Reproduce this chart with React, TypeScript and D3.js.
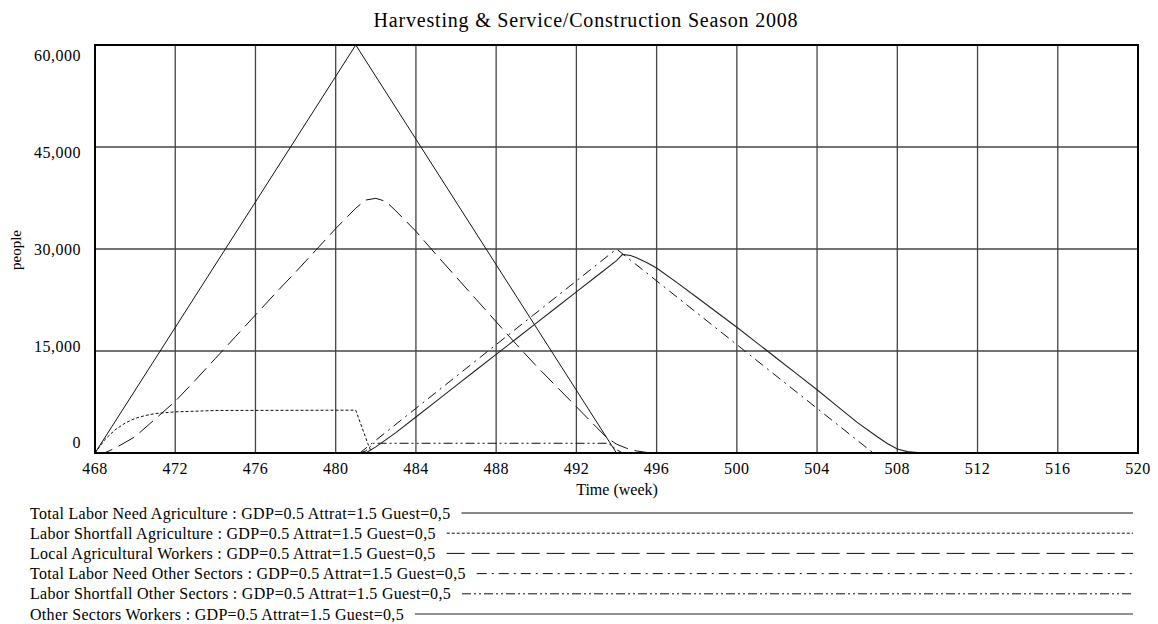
import React, { useEffect, useRef } from 'react';
import * as d3 from 'd3';

// chart data
const xTicks = [468, 472, 476, 480, 484, 488, 492, 496, 500, 504, 508, 512, 516, 520];
const yTicks = [0, 15000, 30000, 45000, 60000];

const scenario = 'GDP=0.5 Attrat=1.5 Guest=0,5';

const totalAgriWeeks = [468, 481, 494, 520];
const totalAgriValues = [0, 60000, 0, 0];

const shortAgriWeeks = [468, 468.5, 469, 469.5, 470, 470.5, 471, 472, 473, 474, 481, 481.6, 481.8, 520];
const shortAgriValues = [0, 2000, 3400, 4400, 5100, 5500, 5800, 6050, 6150, 6250, 6300, 1400, 0, 0];

const localAgriWeeks = [468, 468.5, 469, 470, 471, 472, 473, 474, 475, 476, 477, 478, 479, 480, 481, 481.5, 482, 482.5, 483, 484, 485, 486, 487, 488, 489, 490, 491, 492, 493, 493.5, 494, 494.5, 495, 495.5, 496, 520];
const localAgriValues = [0, 50, 700, 2400, 5000, 7600, 10700, 13900, 17100, 20300, 23500, 26600, 29800, 33000, 36000, 37200, 37450, 37000, 35600, 32600, 29200, 25900, 22600, 19300, 16000, 12800, 9800, 6800, 3800, 2300, 1300, 700, 300, 80, 0, 0];

const needOtherWeeks = [468, 481.2, 494, 506.8, 520];
const needOtherValues = [0, 0, 30000, 0, 0];

const shortOtherWeeks = [468, 481.2, 481.5, 481.9, 493.6, 494, 494.3, 520];
const shortOtherValues = [0, 0, 300, 1430, 1430, 500, 0, 0];

const workersOtherWeeks = [468, 481.5, 482, 483, 484, 485, 486, 487, 488, 489, 490, 491, 492, 493, 494, 494.3, 494.7, 495, 495.5, 496, 497, 498, 499, 500, 501, 502, 503, 504, 505, 506, 507, 507.5, 508, 508.5, 509, 509.5, 520];
const workersOtherValues = [0, 0, 900, 3000, 5300, 7600, 9900, 12200, 14500, 16800, 19100, 21400, 23700, 26000, 28300, 29200, 29050, 28700, 28000, 27200, 25100, 22900, 20700, 18500, 16200, 13900, 11600, 9300, 6900, 4500, 2400, 1400, 600, 200, 50, 0, 0];

const series = [
  { name: 'Total Labor Need Agriculture', weeks: totalAgriWeeks, values: totalAgriValues, dash: null, color: '#111', width: 1 },
  { name: 'Labor Shortfall Agriculture', weeks: shortAgriWeeks, values: shortAgriValues, dash: '3 2', color: '#111', width: 1 },
  { name: 'Local Agricultural Workers', weeks: localAgriWeeks, values: localAgriValues, dash: '18 7', color: '#111', width: 1 },
  { name: 'Total Labor Need Other Sectors', weeks: needOtherWeeks, values: needOtherValues, dash: '10 5 2 5', color: '#111', width: 1 },
  { name: 'Labor Shortfall Other Sectors', weeks: shortOtherWeeks, values: shortOtherValues, dash: '9 3 2 3 2 3', color: '#111', width: 1 },
  { name: 'Other Sectors Workers', weeks: workersOtherWeeks, values: workersOtherValues, dash: null, color: '#222', width: 1.1 },
];

export default function App() {
  const ref = useRef<SVGSVGElement>(null);

  useEffect(() => {
    document.body.style.margin = '0';
    const width = 1158;
    const height = 624;
    const font = '"Liberation Serif", "Times New Roman", serif';

    const svg = d3.select(ref.current);
    svg.selectAll('*').remove();
    svg.attr('width', width).attr('height', height).style('background', '#fff');

    const x = d3.scaleLinear().domain([468, 520]).range([95, 1138]);
    const y = d3.scaleLinear().domain([0, 60000]).range([453, 45]);

    // title
    svg.append('text')
      .attr('x', 586).attr('y', 27)
      .attr('text-anchor', 'middle')
      .style('font-family', font).style('font-size', '20px')
      .style('letter-spacing', '0.8px')
      .text('Harvesting & Service/Construction Season 2008');

    // grid
    const grid = svg.append('g').attr('stroke', '#444').attr('stroke-width', 1.3);
    grid.selectAll('line.v').data(xTicks).join('line')
      .attr('x1', (d) => x(d)).attr('x2', (d) => x(d))
      .attr('y1', y(60000)).attr('y2', y(0));
    grid.selectAll('line.h').data(yTicks).join('line')
      .attr('class', 'h')
      .attr('x1', x(468)).attr('x2', x(520))
      .attr('y1', (d) => y(d)).attr('y2', (d) => y(d));

    // series
    const line = d3.line<[number, number]>()
      .x((d) => x(d[0]))
      .y((d) => y(d[1]));

    series.forEach((s) => {
      const pts = s.weeks.map((w, i) => [w, s.values[i]] as [number, number]);
      svg.append('path')
        .attr('d', line(pts))
        .attr('fill', 'none')
        .attr('stroke', s.color)
        .attr('stroke-width', s.width)
        .attr('stroke-dasharray', s.dash);
    });

    // frame
    svg.append('rect')
      .attr('x', x(468)).attr('y', y(60000))
      .attr('width', x(520) - x(468)).attr('height', y(0) - y(60000))
      .attr('fill', 'none').attr('stroke', '#000').attr('stroke-width', 2);

    // y tick labels (Vensim squeezes them slightly toward the middle)
    svg.append('g').selectAll('text').data(yTicks).join('text')
      .attr('x', 81)
      .attr('y', (d) => y(30000) + (y(d) - y(30000)) * 0.95)
      .attr('dy', '0.35em')
      .attr('text-anchor', 'end')
      .style('font-family', font).style('font-size', '16px')
      .style('letter-spacing', '0.5px')
      .text((d) => d3.format(',')(d));

    // x tick labels
    svg.append('g').selectAll('text').data(xTicks).join('text')
      .attr('x', (d) => x(d))
      .attr('y', 474)
      .attr('text-anchor', 'middle')
      .style('font-family', font).style('font-size', '16px')
      .style('letter-spacing', '0.5px')
      .text((d) => d);

    svg.append('text')
      .attr('x', 617).attr('y', 495)
      .attr('text-anchor', 'middle')
      .style('font-family', font).style('font-size', '16px')
      .text('Time (week)');

    svg.append('text')
      .attr('transform', 'translate(21,250) rotate(-90)')
      .attr('text-anchor', 'middle')
      .style('font-family', font).style('font-size', '15px')
      .text('people');

    // legend
    const legend = svg.append('g');
    series.forEach((s, i) => {
      const ly = 513 + i * 20.2;
      const t = legend.append('text')
        .attr('x', 30).attr('y', ly)
        .attr('dy', '0.35em')
        .style('font-family', font).style('font-size', '16px')
        .style('letter-spacing', '0.3px')
        .text(`${s.name} : ${scenario}`);
      const tw = (t.node() as SVGTextElement).getComputedTextLength();
      legend.append('line')
        .attr('x1', 30 + tw + 11).attr('x2', 1133)
        .attr('y1', ly).attr('y2', ly)
        .attr('stroke', s.color)
        .attr('stroke-width', s.width)
        .attr('stroke-dasharray', s.dash);
    });
  }, []);

  return <svg ref={ref} style={{ display: 'block' }} />;
}
